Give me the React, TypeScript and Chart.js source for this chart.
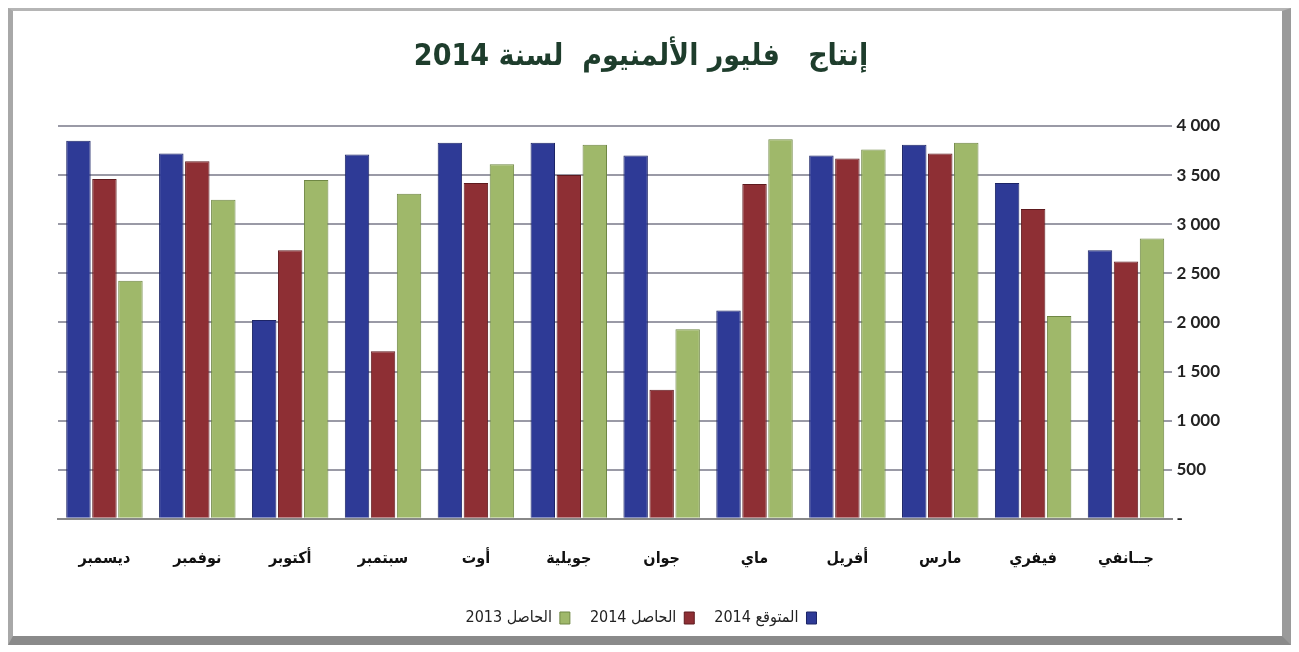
import React, { useEffect, useRef } from "react";
import { Chart, registerables } from "chart.js";

Chart.register(...registerables);

const months = ["ديسمبر", "نوفمبر", "أكتوبر", "سبتمبر", "أوت", "جويلية", "جوان", "ماي", "أفريل", "مارس", "فيفري", "جــانفي"];
const expected2014 = [3850, 3720, 2025, 3710, 3830, 3830, 3700, 2120, 3700, 3810, 3420, 2735];
const actual2014 = [3460, 3640, 2735, 1705, 3420, 3500, 1315, 3410, 3670, 3720, 3155, 2620];
const actual2013 = [2425, 3250, 3450, 3310, 3610, 3810, 1930, 3865, 3760, 3830, 2065, 2855];
const seriesNames = ["المتوقع 2014", "الحاصل 2014", "الحاصل 2013"];
const title = "إنتاج   فليور الألمنيوم  لسنة 2014";

export default function App() {
  const ref = useRef<HTMLCanvasElement>(null);
  useEffect(() => {
    const chart = new Chart(ref.current!, {
      type: "bar",
      data: {
        labels: months,
        datasets: [
          { label: seriesNames[0], data: expected2014, backgroundColor: "#2e3a96", borderColor: "#1c2466", borderWidth: 1 },
          { label: seriesNames[1], data: actual2014, backgroundColor: "#8e2f34", borderColor: "#5e1a1e", borderWidth: 1 },
          { label: seriesNames[2], data: actual2013, backgroundColor: "#9fb86a", borderColor: "#6f8744", borderWidth: 1 },
        ],
      },
      options: {
        animation: false,
        responsive: false,
        layout: { padding: { left: 45, right: 58, top: 10, bottom: 0 } },
        datasets: { bar: { categoryPercentage: 0.84, barPercentage: 0.94 } },
        plugins: {
          title: {
            display: true,
            text: title,
            color: "#1e3d2c",
            font: { family: "DejaVu Sans Condensed", size: 30, weight: "bold" },
            padding: { top: 18, bottom: 51 },
          },
          legend: {
            position: "bottom",
            rtl: true,
            labels: {
              color: "#222",
              boxWidth: 10,
              boxHeight: 12,
              padding: 20,
              font: { family: "DejaVu Sans Condensed", size: 16 },
            },
          },
          tooltip: { enabled: false },
        },
        scales: {
          x: {
            grid: { display: false },
            border: { display: true, color: "#888", width: 2 },
            ticks: {
              color: "#111",
              padding: 22,
              font: { family: "DejaVu Sans Condensed", size: 16, weight: "bold" },
            },
          },
          y: {
            position: "right",
            min: 0,
            max: 4000,
            ticks: {
              stepSize: 500,
              color: "#222",
              padding: 4,
              font: { family: "Lato", size: 17, weight: "bold" },
              callback: (v: any) => (v === 0 ? "-" : Number(v).toLocaleString("en-US").replace(/,/g, " ")),
            },
            grid: { color: "#9a9aa6", lineWidth: 2, drawTicks: false },
            border: { display: false },
          },
        },
      },
    });
    return () => chart.destroy();
  }, []);
  return (
    <div
      style={{
        width: 1283,
        height: 637,
        boxSizing: "border-box",
        borderTop: "3px solid #b5b5b5",
        borderLeft: "5px solid #a8a8a8",
        borderRight: "9px solid #9a9a9a",
        borderBottom: "9px solid #8a8a8a",
        background: "#fff",
      }}
    >
      <canvas ref={ref} width={1269} height={625} />
    </div>
  );
}
